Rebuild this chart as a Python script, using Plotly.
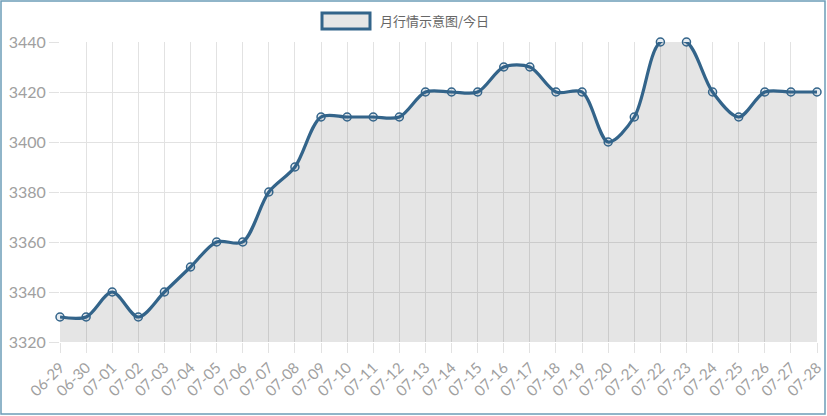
import plotly.graph_objects as go

dates = ["06-29", "06-30", "07-01", "07-02", "07-03", "07-04", "07-05", "07-06", "07-07", "07-08",
         "07-09", "07-10", "07-11", "07-12", "07-13", "07-14", "07-15", "07-16", "07-17", "07-18",
         "07-19", "07-20", "07-21", "07-22", "07-23", "07-24", "07-25", "07-26", "07-27", "07-28"]
prices = [3330, 3330, 3340, 3330, 3340, 3350, 3360, 3360, 3380, 3390,
          3410, 3410, 3410, 3410, 3420, 3420, 3420, 3430, 3430, 3420,
          3420, 3400, 3410, 3440, 3440, 3420, 3410, 3420, 3420, 3420]
series_name = "月行情示意图/今日"
y_ticks = [3320, 3340, 3360, 3380, 3400, 3420, 3440]

LINE = "#33648a"
W, H = 827, 416
ML, MR, MT, MB = 60, 10, 42, 74
PW, PH = W - ML - MR, H - MT - MB

fig = go.Figure()
fig.add_trace(go.Scatter(
    x=list(range(len(dates))), y=prices, mode="lines+markers",
    line=dict(color=LINE, width=3.2, shape="spline", smoothing=0.9),
    marker=dict(size=8, color="rgba(51,100,138,0.12)", line=dict(color=LINE, width=1.5)),
    fill="tozeroy", fillcolor="rgba(0,0,0,0.1)",
    name=series_name, showlegend=False, cliponaxis=False,
))

font_fam = "Lato, 'Open Sans', sans-serif"
fig.update_layout(
    width=W, height=H,
    margin=dict(l=ML, r=MR, t=MT, b=MB, autoexpand=False),
    paper_bgcolor="white", plot_bgcolor="white",
    xaxis=dict(
        range=[0, len(dates) - 1], tickmode="array",
        tickvals=list(range(len(dates))), ticktext=dates,
        tickangle=-45, ticks="outside", ticklen=10, tickcolor="#e2e2e2",
        showgrid=True, gridcolor="#e2e2e2", gridwidth=1,
        zeroline=False, showline=False, automargin=False,
        tickfont=dict(family=font_fam, size=15, color="#a0a0a0"),
    ),
    yaxis=dict(
        range=[3320, 3440], tickmode="array", tickvals=y_ticks,
        ticks="outside", ticklen=10, tickcolor="#e2e2e2",
        showgrid=True, gridcolor="#e2e2e2", gridwidth=1,
        zeroline=False, showline=False, automargin=False,
        tickfont=dict(family=font_fam, size=16, color="#a0a0a0"),
    ),
    shapes=[
        # outer frame
        dict(type="rect", xref="paper", yref="paper",
             x0=(1 - ML) / PW, x1=(825 - ML) / PW,
             y0=-(414 - MT - PH) / PH, y1=1 + (MT - 1) / PH,
             line=dict(color="#6c9db8", width=1.5), fillcolor="rgba(0,0,0,0)", layer="above"),
        # legend swatch
        dict(type="rect", xref="paper", yref="paper",
             x0=(322 - ML) / PW, x1=(370 - ML) / PW,
             y0=1 + (MT - 29) / PH, y1=1 + (MT - 13) / PH,
             line=dict(color=LINE, width=3), fillcolor="#e6e6e6", layer="above"),
    ],
    annotations=[
        dict(text=series_name, xref="paper", yref="paper",
             x=(378 - ML) / PW, y=1 + (MT - 21) / PH, xanchor="left", yanchor="middle",
             showarrow=False, font=dict(family="'Noto Sans CJK SC', sans-serif", size=13, color="#666666")),
    ],
)

fig.write_html("out.html", config={"displayModeBar": False},
               post_script="document.body.style.margin='0';document.body.style.overflow='hidden';")
